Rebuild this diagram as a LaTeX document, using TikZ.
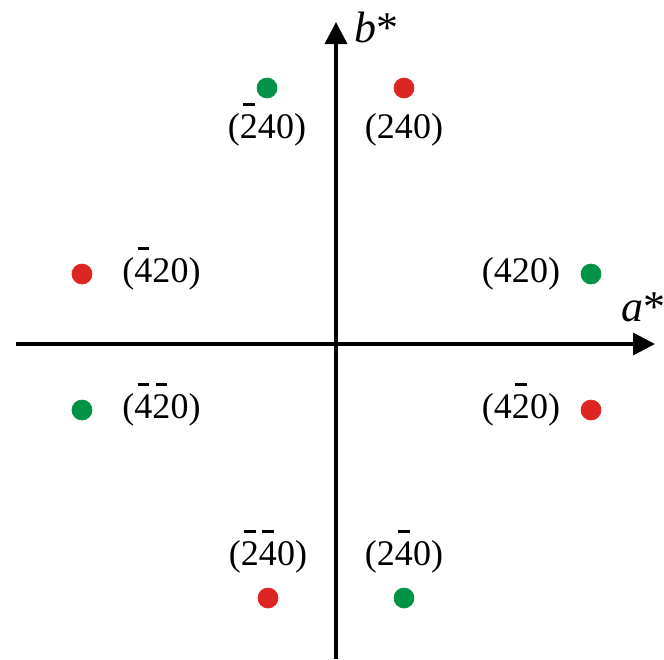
\documentclass[tikz,border=0pt]{standalone}
\usepackage{amsmath}
\usepackage{fontspec}
\setmainfont{Liberation Serif}
\usepackage{tikz}
\usepackage{xcolor}
\usetikzlibrary{arrows.meta}

\definecolor{spotred}{RGB}{221,38,36}
\definecolor{spotgreen}{RGB}{0,146,69}
\newcommand{\ov}[1]{\rlap{\hspace{0.09em}\smash{\raisebox{0.9em}{\rule{0.32em}{0.08em}}}}#1}

\begin{document}
\begin{tikzpicture}[font=\fontsize{20.5}{24}\selectfont,
  axis/.style={line width=2pt,-{Triangle[length=0.44cm,width=0.44cm]}}]
\useasboundingbox (-6.72,-6.3) rectangle (6.56,6.88);
\draw[axis] (-6.4,0) -- (6.38,0);
\draw[axis] (0,-6.3) -- (0,6.44);
\node[font=\fontsize{25}{28}\selectfont] (bstar) at (0.8,6.34) {\textit{b}*};
\node[font=\fontsize{25}{28}\selectfont] (astar) at (6.14,0.74) {\textit{a}*};
\filldraw[spotgreen] (-1.38,5.12) circle (0.2);
\filldraw[spotred] (1.36,5.12) circle (0.2);
\filldraw[spotred] (-5.08,1.4) circle (0.2);
\filldraw[spotgreen] (5.1,1.4) circle (0.2);
\filldraw[spotgreen] (-5.08,-1.32) circle (0.2);
\filldraw[spotred] (5.1,-1.32) circle (0.2);
\filldraw[spotred] (-1.36,-5.08) circle (0.2);
\filldraw[spotgreen] (1.36,-5.08) circle (0.2);
\node (m240) at (-1.38,4.28) {(\ov{2}40)};
\node (p240) at (1.36,4.28) {(240)};
\node (m420) at (-3.49,1.4) {(\ov{4}20)};
\node (p420) at (3.7,1.4) {(420)};
\node (mm420) at (-3.49,-1.32) {(\ov{4}\ov{2}0)};
\node (pm420) at (3.7,-1.32) {(4\ov{2}0)};
\node (mm240) at (-1.36,-4.26) {(\ov{2}\ov{4}0)};
\node (pm240) at (1.36,-4.26) {(2\ov{4}0)};
\end{tikzpicture}
\end{document}
